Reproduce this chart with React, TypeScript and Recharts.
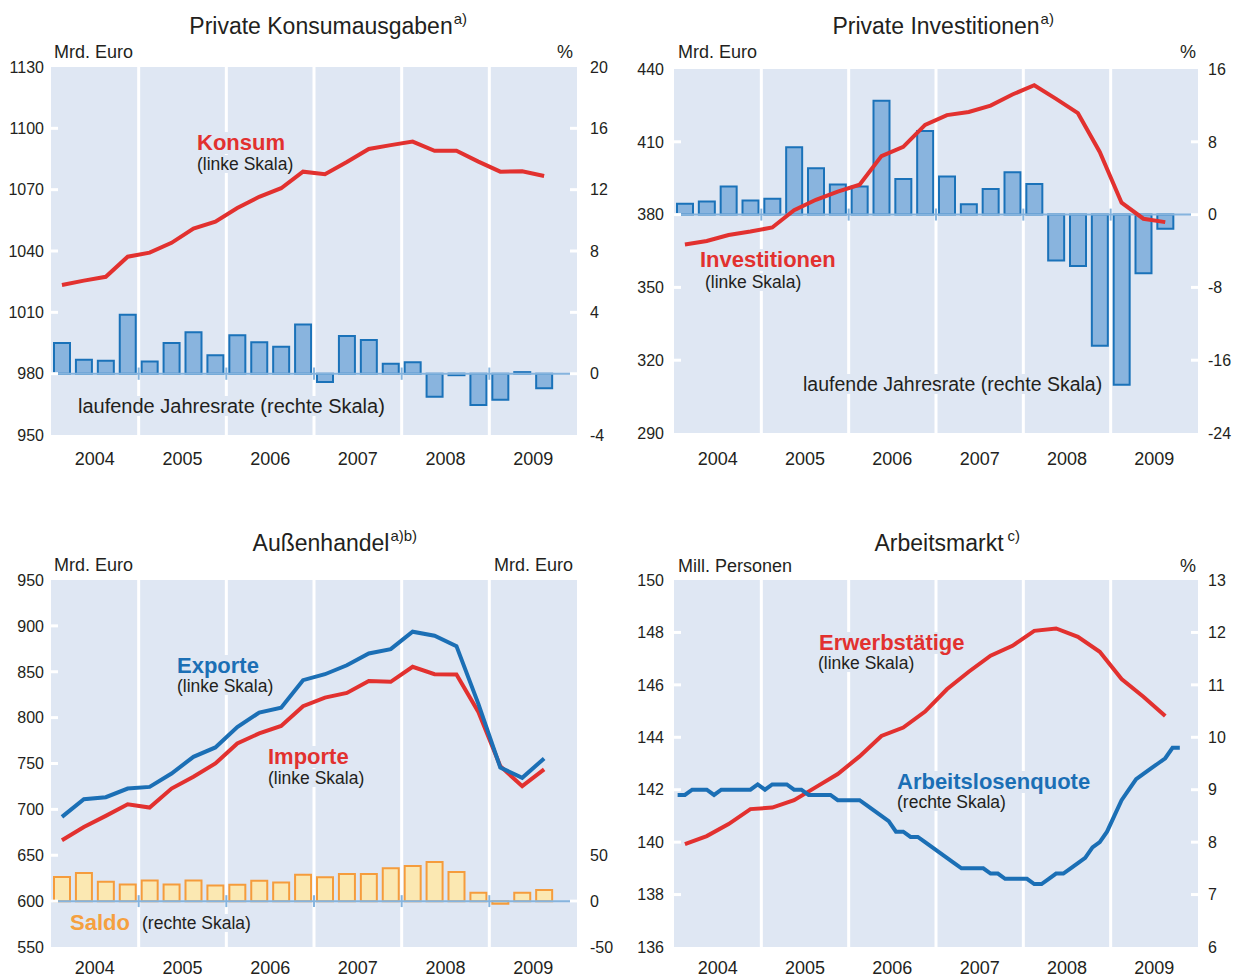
import React from "react";
import { Bar, ComposedChart, Line, ReferenceArea, ReferenceLine, XAxis, YAxis } from "recharts";

const FONT = '"Liberation Sans", Arial, Helvetica, sans-serif';
const INK = "#231f20";
const PLOT_BG = "#dfe7f3";
const RED = "#e2312f";
const BLUE = "#1b6fb5";
const BAR_FILL = "#89b4de";
const BAR_STROKE = "#1a72b9";
const BASE_LINE = "#86b4de";
const SALDO_FILL = "#fbe8b2";
const SALDO_STROKE = "#f59c3c";
const ORANGE = "#f5a03f";

// x axis runs in quarters from 2004Q1; year labels sit in the middle of each band
const yearLabels = ["2004", "2005", "2006", "2007", "2008", "2009"];
const yearTicks = [2, 6, 10, 14, 18, 22];
const yearBreaks = [4, 8, 12, 16, 20];

// Private Konsumausgaben, 2004Q1 - 2009Q3
const konsum = [
  1023.4, 1025.5, 1027.4, 1037.2, 1039.2, 1044.0, 1051.0, 1054.3, 1061.0, 1066.5, 1070.7, 1078.8,
  1077.6, 1083.5, 1089.9, 1091.8, 1093.5, 1089.0, 1089.0, 1083.7, 1078.8, 1079.0, 1076.7,
];
const konsumRate = [
  2.0, 0.9, 0.85, 3.85, 0.8, 2.0, 2.7, 1.2, 2.5, 2.05, 1.75, 3.2, -0.55, 2.45, 2.2, 0.65, 0.75, -1.5,
  -0.1, -2.05, -1.7, 0.1, -0.95,
];
const konsumLeftTicks = [950, 980, 1010, 1040, 1070, 1100, 1130];
const konsumRightTicks = [-4, 0, 4, 8, 12, 16, 20];

// Private Investitionen
const invest = [
  367.7, 369.1, 371.6, 373.0, 374.7, 381.8, 386.1, 389.5, 392.3, 404.1, 407.9, 417.0, 421.0, 422.3,
  424.9, 429.5, 433.3, 427.7, 421.8, 405.8, 384.9, 378.3, 376.9,
];
const investRate = [
  1.2, 1.45, 3.1, 1.55, 1.75, 7.4, 5.1, 3.3, 3.1, 12.5, 3.9, 9.2, 4.2, 1.15, 2.8, 4.65, 3.35, -5.05,
  -5.65, -14.4, -18.7, -6.45, -1.55,
];
const investLeftTicks = [290, 320, 350, 380, 410, 440];
const investRightTicks = [-24, -16, -8, 0, 8, 16];

// Aussenhandel
const exporte = [
  691.8, 711.1, 713.3, 722.7, 724.5, 739.1, 757.3, 767.5, 789.8, 805.5, 810.9, 840.8, 847.3, 857.1,
  869.9, 874.7, 893.6, 889.2, 877.9, 815.0, 745.7, 734.4, 755.5,
];
const importe = [
  666.3, 680.8, 692.9, 705.6, 702.0, 722.7, 735.5, 750.0, 771.9, 782.8, 790.9, 812.4, 821.8, 826.9,
  840.0, 839.0, 855.4, 847.3, 847.0, 806.2, 747.1, 725.3, 743.5,
];
const saldo = [
  26.2, 30.6, 21.1, 18.2, 22.6, 18.2, 22.6, 17.1, 17.8, 22.2, 20.4, 28.8, 25.9, 29.5, 29.5, 35.7,
  38.2, 42.6, 31.7, 9.1, -2.9, 9.1, 12.0,
];
const handelLeftTicks = [550, 600, 650, 700, 750, 800, 850, 900, 950];
const handelRightTicks = [-50, 0, 50];

// Arbeitsmarkt: Erwerbstaetige quarterly, Arbeitslosenquote monthly (2004-01 .. 2009-10)
const erwerb = [
  139.92, 140.23, 140.69, 141.26, 141.32, 141.6, 142.1, 142.6, 143.27, 144.05, 144.37, 144.98, 145.83,
  146.5, 147.11, 147.49, 148.06, 148.15, 147.83, 147.26, 146.22, 145.55, 144.81,
];
const quote = [
  8.9, 8.9, 9.0, 9.0, 9.0, 8.9, 9.0, 9.0, 9.0, 9.0, 9.0, 9.1, 9.0, 9.1, 9.1, 9.1, 9.0, 9.0, 8.9, 8.9,
  8.9, 8.9, 8.8, 8.8, 8.8, 8.8, 8.7, 8.6, 8.5, 8.4, 8.2, 8.2, 8.1, 8.1, 8.0, 7.9, 7.8, 7.7, 7.6, 7.5,
  7.5, 7.5, 7.5, 7.4, 7.4, 7.3, 7.3, 7.3, 7.3, 7.2, 7.2, 7.3, 7.4, 7.4, 7.5, 7.6, 7.7, 7.9, 8.0, 8.2,
  8.5, 8.8, 9.0, 9.2, 9.3, 9.4, 9.5, 9.6, 9.8, 9.8,
];
const arbeitLeftTicks = [136, 138, 140, 142, 144, 146, 148, 150];
const arbeitRightTicks = [6, 7, 8, 9, 10, 11, 12, 13];

const konsumData = konsum.map((v, i) => ({ x: i + 0.5, konsum: v, rate: konsumRate[i] }));
const investData = invest.map((v, i) => ({ x: i + 0.5, invest: v, rate: investRate[i] }));
const handelData = exporte.map((v, i) => ({ x: i + 0.5, exporte: v, importe: importe[i], saldo: saldo[i] }));
const arbeitData = quote.map((v, m) => ({
  x: (m + 0.5) / 3,
  quote: v,
  erwerb: m % 3 === 1 ? erwerb[(m - 1) / 3] : null,
}));

const tickText = { fontSize: 16, fill: INK, fontFamily: FONT };

function leftTick(gap: number) {
  return (props: any) => {
    const { x, y, payload, index, visibleTicksCount } = props;
    const edge = x + 8;
    const inner = index > 0 && index < visibleTicksCount - 1;
    return (
      <g>
        {inner ? <line x1={edge} x2={edge + 7} y1={y} y2={y} stroke="#fff" strokeWidth={3} /> : null}
        <text x={edge - gap} y={y} dy="0.36em" textAnchor="end" {...tickText}>
          {payload.value}
        </text>
      </g>
    );
  };
}

function rightTick(gap: number) {
  return (props: any) => {
    const { x, y, payload, index, visibleTicksCount } = props;
    const edge = x - 8;
    const inner = index > 0 && index < visibleTicksCount - 1;
    return (
      <g>
        {inner ? <line x1={edge - 7} x2={edge} y1={y} y2={y} stroke="#fff" strokeWidth={3} /> : null}
        <text x={edge + gap} y={y} dy="0.36em" textAnchor="start" {...tickText}>
          {payload.value}
        </text>
      </g>
    );
  };
}

function yearTick(dy: number) {
  return (props: any) => {
    const { x, y, payload } = props;
    return (
      <text x={x} y={y} dy={dy} textAnchor="middle" fontSize={18} fill={INK} fontFamily={FONT}>
        {yearLabels[yearTicks.indexOf(payload.value)]}
      </text>
    );
  };
}

function plotBackground(yId: string, lo: number, hi: number) {
  return [
    <ReferenceArea key="bg" yAxisId={yId} x1={0} x2={24} y1={lo} y2={hi} fill={PLOT_BG} fillOpacity={1} stroke="none" />,
    ...yearBreaks.map((b) => <ReferenceLine key={"yb" + b} yAxisId={yId} x={b} stroke="#fff" strokeWidth={3} />),
  ];
}

function zeroBase(yId: string, notch: number) {
  return [
    <ReferenceLine key="zero" yAxisId={yId} y={0} stroke={BASE_LINE} strokeWidth={2} />,
    ...yearBreaks.map((b) => (
      <ReferenceLine
        key={"zn" + b}
        yAxisId={yId}
        segment={[
          { x: b, y: -notch },
          { x: b, y: notch },
        ]}
        stroke={BASE_LINE}
        strokeWidth={2}
      />
    )),
  ];
}

function xAxis(height: number, dy: number) {
  return (
    <XAxis
      key="x"
      dataKey="x"
      type="number"
      domain={[0, 24]}
      ticks={yearTicks}
      interval={0}
      axisLine={false}
      tickLine={false}
      height={height}
      tick={yearTick(dy)}
      allowDataOverflow
    />
  );
}

function KonsumChart() {
  return (
    <ComposedChart width={617} height={489} data={konsumData} margin={{ top: 67, right: 0, bottom: 24, left: 0 }}>
      {plotBackground("l", 950, 1130)}
      <Bar yAxisId="r" dataKey="rate" barSize={16} fill={BAR_FILL} stroke={BAR_STROKE} strokeWidth={2} isAnimationActive={false} />
      {zeroBase("r", 0.4)}
      <Line yAxisId="l" dataKey="konsum" stroke={RED} strokeWidth={4} dot={false} type="linear" isAnimationActive={false} />
      {xAxis(30, 22)}
      <YAxis yAxisId="l" orientation="left" width={51} domain={[950, 1130]} ticks={konsumLeftTicks} interval={0} axisLine={false} tickLine={false} tick={leftTick(7)} allowDataOverflow />
      <YAxis yAxisId="r" orientation="right" width={40} domain={[-4, 20]} ticks={konsumRightTicks} interval={0} axisLine={false} tickLine={false} tick={rightTick(13)} allowDataOverflow />
    </ComposedChart>
  );
}

function InvestChart() {
  return (
    <ComposedChart width={617} height={489} data={investData} margin={{ top: 69, right: 0, bottom: 26, left: 0 }}>
      {plotBackground("l", 290, 440)}
      <Bar yAxisId="r" dataKey="rate" barSize={16} fill={BAR_FILL} stroke={BAR_STROKE} strokeWidth={2} isAnimationActive={false} />
      {zeroBase("r", 0.66)}
      <Line yAxisId="l" dataKey="invest" stroke={RED} strokeWidth={4} dot={false} type="linear" isAnimationActive={false} />
      {xAxis(30, 24)}
      <YAxis yAxisId="l" orientation="left" width={57} domain={[290, 440]} ticks={investLeftTicks} interval={0} axisLine={false} tickLine={false} tick={leftTick(10)} allowDataOverflow />
      <YAxis yAxisId="r" orientation="right" width={36} domain={[-24, 16]} ticks={investRightTicks} interval={0} axisLine={false} tickLine={false} tick={rightTick(10)} allowDataOverflow />
    </ComposedChart>
  );
}

function HandelChart() {
  return (
    <ComposedChart width={617} height={489} data={handelData} margin={{ top: 91, right: 0, bottom: 0, left: 0 }}>
      {plotBackground("l", 550, 950)}
      <Bar yAxisId="r" dataKey="saldo" barSize={16} fill={SALDO_FILL} stroke={SALDO_STROKE} strokeWidth={2} isAnimationActive={false} />
      {zeroBase("r", 6.5)}
      <Line yAxisId="l" dataKey="importe" stroke={RED} strokeWidth={4} dot={false} type="linear" isAnimationActive={false} />
      <Line yAxisId="l" dataKey="exporte" stroke={BLUE} strokeWidth={4} dot={false} type="linear" isAnimationActive={false} />
      {xAxis(31, 19)}
      <YAxis yAxisId="l" orientation="left" width={51} domain={[550, 950]} ticks={handelLeftTicks} interval={0} axisLine={false} tickLine={false} tick={leftTick(7)} allowDataOverflow />
      <YAxis yAxisId="r" orientation="right" width={40} domain={[-50, 350]} ticks={handelRightTicks} interval={0} axisLine={false} tickLine={false} tick={rightTick(13)} allowDataOverflow />
    </ComposedChart>
  );
}

function ArbeitChart() {
  return (
    <ComposedChart width={617} height={489} data={arbeitData} margin={{ top: 91, right: 0, bottom: 0, left: 0 }}>
      {plotBackground("l", 136, 150)}
      <Line yAxisId="l" dataKey="erwerb" stroke={RED} strokeWidth={4} dot={false} type="linear" connectNulls isAnimationActive={false} />
      <Line yAxisId="r" dataKey="quote" stroke={BLUE} strokeWidth={4} dot={false} type="linear" isAnimationActive={false} />
      {xAxis(31, 19)}
      <YAxis yAxisId="l" orientation="left" width={57} domain={[136, 150]} ticks={arbeitLeftTicks} interval={0} axisLine={false} tickLine={false} tick={leftTick(10)} allowDataOverflow />
      <YAxis yAxisId="r" orientation="right" width={36} domain={[6, 13]} ticks={arbeitRightTicks} interval={0} axisLine={false} tickLine={false} tick={rightTick(10)} allowDataOverflow />
    </ComposedChart>
  );
}

function Txt({
  x,
  cy,
  size = 17.5,
  bold = false,
  color = INK,
  align = "left",
  bg = false,
  children,
}: {
  x: number;
  cy: number;
  size?: number;
  bold?: boolean;
  color?: string;
  align?: "left" | "right";
  bg?: boolean;
  children: React.ReactNode;
}) {
  const lh = Math.round(size);
  const style: React.CSSProperties = {
    position: "absolute",
    top: cy - lh / 2,
    fontSize: size,
    lineHeight: lh + "px",
    fontWeight: bold ? 700 : 400,
    color,
    whiteSpace: "nowrap",
    background: bg ? PLOT_BG : "transparent",
    padding: bg ? "0 2px" : 0,
  };
  if (align === "right") style.right = 1234 - x;
  else style.left = bg ? x - 2 : x;
  return <div style={style}>{children}</div>;
}

function Title({ cx, cy, text, sup, gap = 1 }: { cx: number; cy: number; text: string; sup: string; gap?: number }) {
  return (
    <div
      style={{
        position: "absolute",
        left: cx,
        top: cy - 14,
        transform: "translateX(-50%)",
        fontSize: 23,
        lineHeight: "28px",
        whiteSpace: "nowrap",
      }}
    >
      {text}
      <span style={{ position: "absolute", left: `calc(100% + ${gap}px)`, top: -7, fontSize: 15 }}>{sup}</span>
    </div>
  );
}

export default function App() {
  return (
    <div
      style={{
        position: "absolute",
        left: 0,
        top: 0,
        width: 1234,
        height: 978,
        background: "#fff",
        fontFamily: FONT,
        color: INK,
        overflow: "hidden",
      }}
    >
      <div style={{ position: "absolute", left: 0, top: 0 }}>
        <KonsumChart />
      </div>
      <div style={{ position: "absolute", left: 617, top: 0 }}>
        <InvestChart />
      </div>
      <div style={{ position: "absolute", left: 0, top: 489 }}>
        <HandelChart />
      </div>
      <div style={{ position: "absolute", left: 617, top: 489 }}>
        <ArbeitChart />
      </div>

      <Title cx={321} cy={26} text="Private Konsumausgaben" sup="a)" />
      <Txt x={54} cy={52} size={18}>Mrd. Euro</Txt>
      <Txt x={573} cy={52} size={18} align="right">%</Txt>
      <Txt x={197} cy={164} bg>(linke Skala)</Txt>
      <Txt x={197} cy={143} size={22} bold color={RED} bg>Konsum</Txt>
      <Txt x={78} cy={406} size={20} bg>laufende Jahresrate (rechte Skala)</Txt>

      <Title cx={936} cy={26} text="Private Investitionen" sup="a)" />
      <Txt x={678} cy={52} size={18}>Mrd. Euro</Txt>
      <Txt x={1196} cy={52} size={18} align="right">%</Txt>
      <Txt x={705} cy={282} bg>(linke Skala)</Txt>
      <Txt x={700} cy={260} size={22} bold color={RED} bg>Investitionen</Txt>
      <Txt x={803} cy={384} size={19.5} bg>laufende Jahresrate (rechte Skala)</Txt>

      <Title cx={321} cy={543} text="Außenhandel" sup="a)b)" />
      <Txt x={54} cy={565} size={18}>Mrd. Euro</Txt>
      <Txt x={573} cy={565} size={18} align="right">Mrd. Euro</Txt>
      <Txt x={177} cy={686} bg>(linke Skala)</Txt>
      <Txt x={177} cy={666} size={22} bold color={BLUE} bg>Exporte</Txt>
      <Txt x={268} cy={778} bg>(linke Skala)</Txt>
      <Txt x={268} cy={757} size={22} bold color={RED} bg>Importe</Txt>
      <Txt x={70} cy={923} size={22} bold color={ORANGE} bg>Saldo</Txt>
      <Txt x={142} cy={923} bg>(rechte Skala)</Txt>

      <Title cx={939} cy={543} text="Arbeitsmarkt" sup="c)" gap={4} />
      <Txt x={678} cy={566} size={18}>Mill. Personen</Txt>
      <Txt x={1196} cy={566} size={18} align="right">%</Txt>
      <Txt x={818} cy={663} bg>(linke Skala)</Txt>
      <Txt x={819} cy={643} size={22} bold color={RED} bg>Erwerbstätige</Txt>
      <Txt x={897} cy={802} bg>(rechte Skala)</Txt>
      <Txt x={897} cy={782} size={22} bold color={BLUE} bg>Arbeitslosenquote</Txt>
    </div>
  );
}
